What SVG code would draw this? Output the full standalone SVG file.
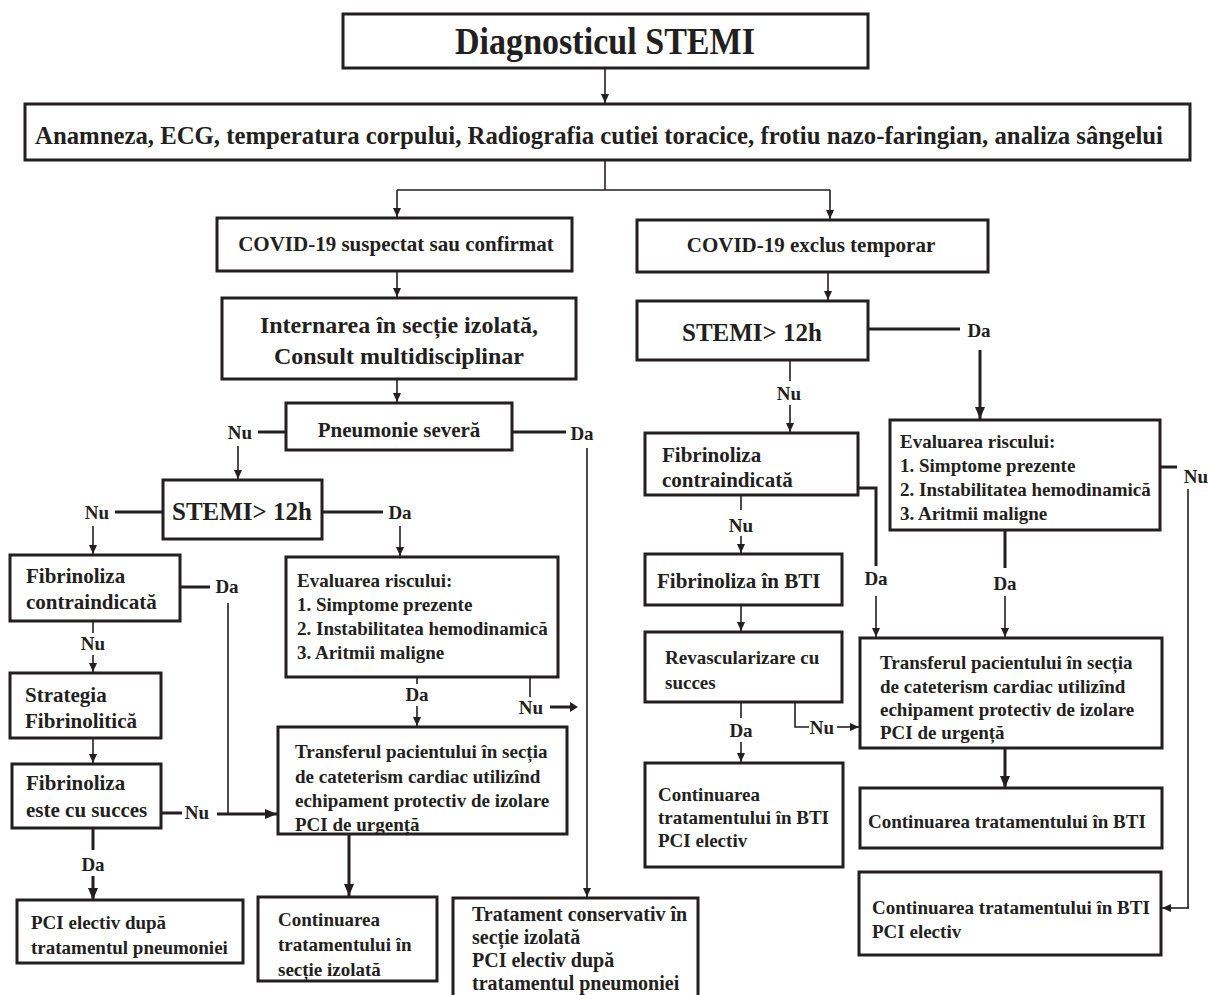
<svg xmlns="http://www.w3.org/2000/svg" width="1208" height="995" viewBox="0 0 1208 995">
<style>
  .box{fill:#fff;stroke:#231f20;stroke-width:3}
  .t{font-family:"Liberation Serif","Times New Roman",serif;font-weight:bold;fill:#231f20}
  .c{text-anchor:middle}
  .s19{font-size:19px}
  .s21{font-size:21px}
  .s20{font-size:20px}
  .lbl{font-family:"Liberation Serif","Times New Roman",serif;font-weight:bold;font-size:19px;fill:#231f20;text-anchor:middle}
  .ln{fill:none;stroke:#231f20;stroke-width:1.6}
  .lk{fill:none;stroke:#231f20;stroke-width:3}
  .ar{fill:none;stroke:#231f20;stroke-width:1.6;marker-end:url(#ah)}
  .ak{fill:none;stroke:#231f20;stroke-width:3;marker-end:url(#ahk)}
</style>
<defs>
  <marker id="ah" markerUnits="userSpaceOnUse" markerWidth="9" markerHeight="8" refX="9" refY="4" orient="auto"><path d="M0,0 L9,4 L0,8 z" fill="#231f20"/></marker>
  <marker id="ahk" markerUnits="userSpaceOnUse" markerWidth="12" markerHeight="10" refX="12" refY="5" orient="auto"><path d="M0,0 L12,5 L0,10 z" fill="#231f20"/></marker>
</defs>
<rect width="1208" height="995" fill="#fff"/>

<g id="connectors">
  <path class="ar" d="M605,68 V103"/>
  <path class="ln" d="M605,160 V190 M397,190 H830"/>
  <path class="ar" d="M397,190 V217"/>
  <path class="ar" d="M830,190 V219"/>
  <path class="ar" d="M397,271 V297"/>
  <path class="ar" d="M828,272 V300"/>
  <path class="ar" d="M397,379 V402"/>
  <!-- Pneumonie -->
  <path class="lk" d="M258,432 H286"/>
  <path class="ar" d="M238,446 V479"/>
  <path class="lk" d="M512,432 H566"/>
  <path class="ar" d="M587,448 V897"/>
  <!-- STEMI left -->
  <path class="lk" d="M115,512 H163"/>
  <path class="ar" d="M93,526 V554"/>
  <path class="lk" d="M322,512 H383"/>
  <path class="ar" d="M400,526 V556"/>
  <!-- Fibrinoliza contraindicata left -->
  <path class="lk" d="M180,587 H210"/>
  <path class="ln" d="M228,603 V814"/>
  <path class="ln" d="M93,621 V633"/>
  <path class="ar" d="M93,655 V672"/>
  <path class="ar" d="M93,738 V763"/>
  <!-- Fibrinoliza succes -->
  <path class="lk" d="M160,813 H182"/>
  <path class="ak" d="M217,814 H277"/>
  <path class="lk" d="M93,828 V850"/>
  <path class="ak" d="M93,876 V900"/>
  <!-- Evaluarea left -->
  <path class="ln" d="M417,677 V684"/>
  <path class="ar" d="M417,706 V726"/>
  <path class="ln" d="M530,677 V697"/>
  <path class="lk" d="M550,707 H570"/>
  <path d="M570,702 L578,707 L570,712 z" fill="#231f20"/>
  <path class="ak" d="M349,834 V896"/>
  <!-- STEMI right -->
  <path class="lk" d="M868,329 H960"/>
  <path class="ak" d="M980,350 V419"/>
  <path class="ln" d="M790,360 V381"/>
  <path class="ar" d="M790,405 V432"/>
  <!-- Fibrinoliza contraindicata right -->
  <path class="lk" d="M858,488 H876 V566"/>
  <path class="ar" d="M876,596 V637"/>
  <path class="ln" d="M741,495 V510"/>
  <path class="ar" d="M741,536 V553"/>
  <path class="ar" d="M741,605 V631"/>
  <!-- Revascularizare -->
  <path class="ln" d="M741,702 V718"/>
  <path class="ar" d="M741,742 V762"/>
  <path class="ln" d="M795,702 V727 H809"/>
  <path class="ar" d="M837,727 H859"/>
  <!-- Evaluarea right -->
  <path class="lk" d="M1160,467 H1177"/>
  <path class="ln" d="M1188,489 V908"/>
  <path class="ar" d="M1189,908 H1162"/>
  <path class="lk" d="M1005,530 V568"/>
  <path class="ar" d="M1005,596 V637"/>
  <path class="ak" d="M1005,748 V788"/>
</g>

<g id="labels">
  <text class="lbl" x="240" y="439">Nu</text>
  <text class="lbl" x="582" y="440">Da</text>
  <text class="lbl" x="97" y="519">Nu</text>
  <text class="lbl" x="400" y="519">Da</text>
  <text class="lbl" x="227" y="593">Da</text>
  <text class="lbl" x="93" y="650">Nu</text>
  <text class="lbl" x="197" y="819">Nu</text>
  <text class="lbl" x="93" y="871">Da</text>
  <text class="lbl" x="417" y="701">Da</text>
  <text class="lbl" x="531" y="714">Nu</text>
  <text class="lbl" x="979" y="337">Da</text>
  <text class="lbl" x="789" y="400">Nu</text>
  <text class="lbl" x="876" y="585">Da</text>
  <text class="lbl" x="741" y="532">Nu</text>
  <text class="lbl" x="741" y="737">Da</text>
  <text class="lbl" x="822" y="734">Nu</text>
  <text class="lbl" x="1196" y="483">Nu</text>
  <text class="lbl" x="1005" y="590">Da</text>
</g>

<g id="n-diag">
  <rect class="box" x="343" y="14" width="525" height="54"/>
  <text class="t c" x="605" y="54" font-size="38" textLength="300" lengthAdjust="spacingAndGlyphs">Diagnosticul STEMI</text>
</g>
<g id="n-anamneza">
  <rect class="box" x="25" y="104" width="1165" height="56"/>
  <text class="t c" x="599" y="144" font-size="25" textLength="1128" lengthAdjust="spacingAndGlyphs">Anamneza, ECG, temperatura corpului, Radiografia cutiei toracice, frotiu nazo-faringian, analiza sângelui</text>
</g>
<g id="n-covid-susp">
  <rect class="box" x="217" y="218" width="355" height="53"/>
  <text class="t c s21" x="396" y="251">COVID-19 suspectat sau confirmat</text>
</g>
<g id="n-covid-excl">
  <rect class="box" x="637" y="220" width="351" height="52"/>
  <text class="t c s21" x="811" y="252">COVID-19 exclus temporar</text>
</g>
<g id="n-internarea">
  <rect class="box" x="222" y="298" width="354" height="81"/>
  <text class="t c" font-size="24" x="399" y="333">Internarea în secție izolată,</text>
  <text class="t c" font-size="24" x="399" y="364">Consult multidisciplinar</text>
</g>
<g id="n-stemi-r">
  <rect class="box" x="637" y="301" width="231" height="59"/>
  <text class="t c" font-size="25" x="752" y="341">STEMI&gt; 12h</text>
</g>
<g id="n-pneumonie">
  <rect class="box" x="286" y="403" width="226" height="47"/>
  <text class="t c s21" x="399" y="437">Pneumonie severă</text>
</g>
<g id="n-stemi-l">
  <rect class="box" x="163" y="480" width="159" height="59"/>
  <text class="t c" font-size="25" x="242" y="520">STEMI&gt; 12h</text>
</g>
<g id="n-fib-contra-l">
  <rect class="box" x="10" y="555" width="170" height="66"/>
  <text class="t s21" x="26" y="583">Fibrinoliza</text>
  <text class="t s21" x="26" y="609">contraindicată</text>
</g>
<g id="n-strategia">
  <rect class="box" x="10" y="673" width="151" height="65"/>
  <text class="t s21" x="25" y="702">Strategia</text>
  <text class="t s21" x="25" y="728">Fibrinolitică</text>
</g>
<g id="n-fib-succes">
  <rect class="box" x="12" y="764" width="149" height="64"/>
  <text class="t s21" x="26" y="790">Fibrinoliza</text>
  <text class="t s21" x="26" y="817">este cu succes</text>
</g>
<g id="n-pci-dupa">
  <rect class="box" x="17" y="900" width="226" height="63"/>
  <text class="t s19" x="31" y="929">PCI electiv după</text>
  <text class="t s19" x="31" y="954">tratamentul pneumoniei</text>
</g>
<g id="n-eval-l">
  <rect class="box" x="286" y="557" width="272" height="120"/>
  <text class="t s19" x="297" y="587">Evaluarea riscului:</text>
  <text class="t s19" x="297" y="611">1. Simptome prezente</text>
  <text class="t s19" x="297" y="635">2. Instabilitatea hemodinamică</text>
  <text class="t s19" x="297" y="659">3. Aritmii maligne</text>
</g>
<g id="n-transfer-l">
  <rect class="box" x="278" y="727" width="289" height="107"/>
  <text class="t s19" x="295" y="758">Transferul pacientului în secția</text>
  <text class="t s19" x="295" y="783">de cateterism cardiac utilizînd</text>
  <text class="t s19" x="295" y="807">echipament protectiv de izolare</text>
  <text class="t s19" x="295" y="831">PCI de urgență</text>
</g>
<g id="n-cont-izolata">
  <rect class="box" x="258" y="897" width="179" height="84"/>
  <text class="t s19" x="278" y="926">Continuarea</text>
  <text class="t s19" x="278" y="951">tratamentului în</text>
  <text class="t s19" x="278" y="976">secție izolată</text>
</g>
<g id="n-conservativ">
  <rect class="box" x="453" y="898" width="245" height="110"/>
  <text class="t s20" x="472" y="921">Tratament conservativ în</text>
  <text class="t s20" x="472" y="944">secție izolată</text>
  <text class="t s20" x="472" y="967">PCI electiv după</text>
  <text class="t s20" x="472" y="990">tratamentul pneumoniei</text>
</g>

<g id="n-fib-contra-r">
  <rect class="box" x="645" y="433" width="213" height="62"/>
  <text class="t s21" x="662" y="462">Fibrinoliza</text>
  <text class="t s21" x="662" y="487">contraindicată</text>
</g>
<g id="n-fib-bti">
  <rect class="box" x="645" y="554" width="197" height="51"/>
  <text class="t s21" x="657" y="588">Fibrinoliza în BTI</text>
</g>
<g id="n-revasc">
  <rect class="box" x="645" y="632" width="197" height="70"/>
  <text class="t s19" x="665" y="664">Revascularizare cu</text>
  <text class="t s19" x="665" y="689">succes</text>
</g>
<g id="n-cont-bti-pci-m">
  <rect class="box" x="645" y="763" width="198" height="104"/>
  <text class="t s19" x="658" y="801">Continuarea</text>
  <text class="t s19" x="658" y="824">tratamentului în BTI</text>
  <text class="t s19" x="658" y="847">PCI electiv</text>
</g>
<g id="n-eval-r">
  <rect class="box" x="890" y="420" width="270" height="110"/>
  <text class="t s19" x="900" y="448">Evaluarea riscului:</text>
  <text class="t s19" x="900" y="472">1. Simptome prezente</text>
  <text class="t s19" x="900" y="496">2. Instabilitatea hemodinamică</text>
  <text class="t s19" x="900" y="520">3. Aritmii maligne</text>
</g>
<g id="n-transfer-r">
  <rect class="box" x="860" y="638" width="302" height="110"/>
  <text class="t s19" x="880" y="669">Transferul pacientului în secția</text>
  <text class="t s19" x="880" y="693">de cateterism cardiac utilizînd</text>
  <text class="t s19" x="880" y="716">echipament protectiv de izolare</text>
  <text class="t s19" x="880" y="739">PCI de urgență</text>
</g>
<g id="n-cont-bti">
  <rect class="box" x="860" y="788" width="302" height="60"/>
  <text class="t s19" x="868" y="828">Continuarea tratamentului în BTI</text>
</g>
<g id="n-cont-bti-pci-r">
  <rect class="box" x="859" y="872" width="302" height="83"/>
  <text class="t s19" x="872" y="914">Continuarea tratamentului în BTI</text>
  <text class="t s19" x="872" y="938">PCI electiv</text>
</g>
</svg>
